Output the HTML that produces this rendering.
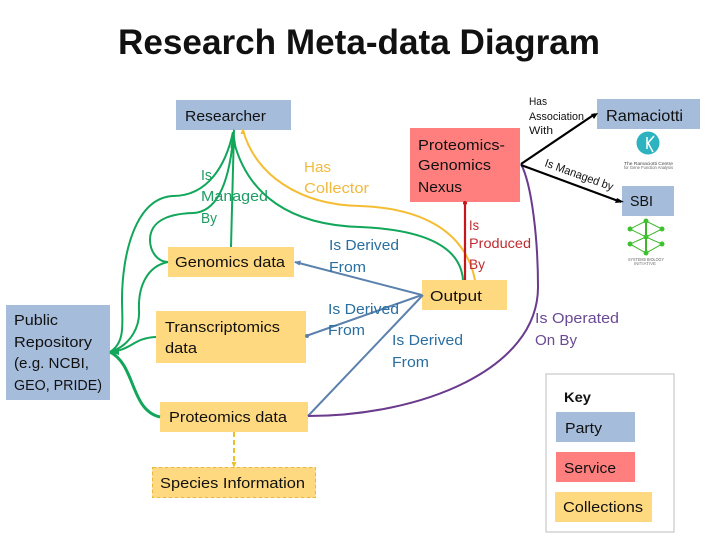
<!DOCTYPE html>
<html>
<head>
<meta charset="utf-8">
<style>
html,body{margin:0;padding:0;background:#fff;width:720px;height:540px;overflow:hidden}
svg{display:block}
text{font-family:"Liberation Sans",sans-serif;font-size:15px;fill:#111}
</style>
</head>
<body>
<svg width="720" height="540" viewBox="0 0 720 540" xmlns="http://www.w3.org/2000/svg">
<rect width="720" height="540" fill="#fff"/>
<text x="118" y="54" textLength="482" lengthAdjust="spacingAndGlyphs" style="font-size:35px;font-weight:bold" fill="#111">Research Meta-data Diagram</text>

<!-- key frame -->
<rect x="546" y="374" width="128" height="158" fill="#fff" stroke="#bcbcbc" stroke-width="1"/>

<!-- boxes -->
<g fill="#a5bcdb">
<rect x="176" y="100" width="115" height="30"/>
<rect x="6" y="305" width="104" height="95"/>
<rect x="597" y="99" width="103" height="30"/>
<rect x="622" y="186" width="52" height="30"/>
<rect x="556" y="412" width="79" height="30"/>
</g>
<g fill="#ffd97f">
<rect x="168" y="247" width="126" height="30"/>
<rect x="156" y="311" width="150" height="52"/>
<rect x="160" y="402" width="148" height="30"/>
<rect x="152.500" y="467.500" width="163" height="30" stroke="#e8b93e" stroke-dasharray="4 2"/>
<rect x="422" y="280" width="85" height="30"/>
<rect x="555" y="492" width="97" height="30"/>
</g>
<g fill="#ff7f7f">
<rect x="410" y="128" width="110" height="74"/>
<rect x="556" y="452" width="79" height="30"/>
</g>

<!-- green connectors -->
<g fill="none" stroke="#12a65a" stroke-width="2">
<path d="M233 132C226 165 208 196 173 196C135 198 122 255 122 300C122 322 126 342 110 352"/>
<path d="M233 140C230 170 222 212 193 213C160 214 150 226 150 240C150 252 158 262 168 262"/>
<path d="M234 130L231 247"/>
<path d="M234 142C248 195 290 225 360 227C410 229 460 240 463 280"/>
<path d="M168 262C148 266 138 285 139 310C140 325 132 345 110 352"/>
<path d="M156 337C133 338 132 350 110 352"/>
<path d="M160 417C130 410 136 365 110 352" stroke-width="3"/>
</g>
<path d="M233.500 128l-3 20h6z" fill="#12a65a"/>
<path d="M110 352l9-3v6z" fill="#12a65a"/>

<!-- yellow connector -->
<path d="M243 130C255 175 300 205 360 206C420 208 465 230 475 280" fill="none" stroke="#f4bd33" stroke-width="2"/>
<path d="M243 128l-2.500 6h5z" fill="#f4bd33"/>

<!-- red -->
<path d="M465 203V280" stroke="#c5161d" stroke-width="2.200"/>
<circle cx="465" cy="203" r="2" fill="#c5161d"/>

<!-- blue -->
<g stroke="#5b81ac" stroke-width="2" fill="none">
<path d="M422 295L295 262"/>
<path d="M306 336L422 295"/>
<path d="M308 416L423 295"/>
</g>
<path d="M294 262l7 -1.500l-1.500 5z" fill="#5b81ac"/>
<circle cx="307" cy="336" r="2" fill="#5b81ac"/>

<!-- purple -->
<path d="M521 164C532 185 538 240 538 287C538 370 420 416 308 416" fill="none" stroke="#6a3a8c" stroke-width="2"/>

<!-- black -->
<g stroke="#000" stroke-width="2.200" fill="none">
<path d="M521 164L595 114"/>
<path d="M521 165L621 202"/>
</g>
<path d="M598 113l-7 1l3 5z" fill="#000"/>
<path d="M624 202l-7-4l-2 5z" fill="#000"/>

<!-- yellow dashed -->
<path d="M234 432V464" stroke="#edbe2e" stroke-width="2" stroke-dasharray="5 3"/>
<path d="M234 468l-2.500-6h5z" fill="#edbe2e"/>

<!-- logos -->
<circle cx="648" cy="143" r="11.500" fill="#2db3bf"/>
<path d="M647 137v12M654 136l-6 7 5 9" fill="none" stroke="#fff" stroke-width="1.500"/>
<text x="624" y="165" textLength="49" lengthAdjust="spacingAndGlyphs" style="font-size:4.500px;fill:#444">The Ramaciotti Centre</text>
<text x="624" y="169" textLength="49" lengthAdjust="spacingAndGlyphs" style="font-size:4.500px;fill:#666">for Gene Function Analysis</text>
<g stroke="#3cb528" stroke-width="1" fill="none">
<path d="M646 221L630 229L646 237L662 229ZM646 237L630 244L646 253L662 244ZM646 221V253" />
</g>
<path d="M646 221V253" stroke="#3cb528" stroke-width="2"/>
<g fill="#3cc22e">
<circle cx="646" cy="221" r="2.500"/><circle cx="630" cy="229" r="2.500"/><circle cx="662" cy="229" r="2.500"/>
<circle cx="646" cy="237" r="2.500"/><circle cx="630" cy="244" r="2.500"/><circle cx="662" cy="244" r="2.500"/>
<circle cx="646" cy="253" r="2.500"/>
</g>
<text x="628" y="261" textLength="36" lengthAdjust="spacingAndGlyphs" style="font-size:4.500px;fill:#666">SYSTEMS BIOLOGY</text>
<text x="634" y="265" textLength="22" lengthAdjust="spacingAndGlyphs" style="font-size:4.500px;fill:#777">INITIATIVE</text>

<!-- node labels -->
<text x="185" y="121" textLength="81" lengthAdjust="spacingAndGlyphs">Researcher</text>
<text x="175" y="267" textLength="110" lengthAdjust="spacingAndGlyphs">Genomics data</text>
<text x="14" y="325" textLength="44" lengthAdjust="spacingAndGlyphs">Public</text>
<text x="14" y="347" textLength="78" lengthAdjust="spacingAndGlyphs">Repository</text>
<text x="14" y="368" textLength="75" lengthAdjust="spacingAndGlyphs">(e.g. NCBI,</text>
<text x="14" y="390" textLength="88" lengthAdjust="spacingAndGlyphs">GEO, PRIDE)</text>
<text x="165" y="332" textLength="115" lengthAdjust="spacingAndGlyphs">Transcriptomics</text>
<text x="165" y="353" textLength="32" lengthAdjust="spacingAndGlyphs">data</text>
<text x="169" y="422" textLength="118" lengthAdjust="spacingAndGlyphs">Proteomics data</text>
<text x="160" y="488" textLength="145" lengthAdjust="spacingAndGlyphs">Species Information</text>
<text x="418" y="150" textLength="87" lengthAdjust="spacingAndGlyphs">Proteomics-</text>
<text x="418" y="170" textLength="73" lengthAdjust="spacingAndGlyphs">Genomics</text>
<text x="418" y="192" textLength="44" lengthAdjust="spacingAndGlyphs">Nexus</text>
<text x="606" y="121" textLength="77" lengthAdjust="spacingAndGlyphs" style="font-size:16px">Ramaciotti</text>
<text x="630" y="206" textLength="23" lengthAdjust="spacingAndGlyphs">SBI</text>
<text x="430" y="301" textLength="52" lengthAdjust="spacingAndGlyphs">Output</text>
<text x="564" y="402" textLength="27" lengthAdjust="spacingAndGlyphs" style="font-weight:bold;font-size:14px">Key</text>
<text x="565" y="433" textLength="37" lengthAdjust="spacingAndGlyphs">Party</text>
<text x="564" y="473" textLength="52" lengthAdjust="spacingAndGlyphs">Service</text>
<text x="563" y="512" textLength="80" lengthAdjust="spacingAndGlyphs">Collections</text>

<!-- connector labels -->
<g style="font-size:11px">
<text x="529" y="105" textLength="18" lengthAdjust="spacingAndGlyphs" style="font-size:11px">Has</text>
<text x="529" y="120" textLength="55" lengthAdjust="spacingAndGlyphs" style="font-size:11px">Association</text>
<text x="529" y="134" textLength="24" lengthAdjust="spacingAndGlyphs" style="font-size:11px">With</text>
<text transform="translate(544 166) rotate(20)" textLength="72" lengthAdjust="spacingAndGlyphs" style="font-size:11.500px">Is Managed by</text>
</g>
<g>
<text x="201" y="180" textLength="11" lengthAdjust="spacingAndGlyphs" style="fill:#1f9c63">Is</text>
<text x="201" y="201" textLength="67" lengthAdjust="spacingAndGlyphs" style="fill:#1f9c63">Managed</text>
<text x="201" y="223" textLength="16" lengthAdjust="spacingAndGlyphs" style="fill:#1f9c63">By</text>
<text x="304" y="172" textLength="27" lengthAdjust="spacingAndGlyphs" style="fill:#f2b93b">Has</text>
<text x="304" y="193" textLength="65" lengthAdjust="spacingAndGlyphs" style="fill:#f2b93b">Collector</text>
<text x="329" y="250" textLength="70" lengthAdjust="spacingAndGlyphs" style="fill:#2a6f9f">Is Derived</text>
<text x="329" y="272" textLength="37" lengthAdjust="spacingAndGlyphs" style="fill:#2a6f9f">From</text>
<text x="328" y="314" textLength="71" lengthAdjust="spacingAndGlyphs" style="fill:#2a6f9f">Is Derived</text>
<text x="328" y="335" textLength="37" lengthAdjust="spacingAndGlyphs" style="fill:#2a6f9f">From</text>
<text x="392" y="345" textLength="71" lengthAdjust="spacingAndGlyphs" style="fill:#2a6f9f">Is Derived</text>
<text x="392" y="367" textLength="37" lengthAdjust="spacingAndGlyphs" style="fill:#2a6f9f">From</text>
<text x="469" y="230" textLength="10" lengthAdjust="spacingAndGlyphs" style="fill:#bf2b30;font-size:14px">Is</text>
<text x="469" y="248" textLength="62" lengthAdjust="spacingAndGlyphs" style="fill:#bf2b30;font-size:14px">Produced</text>
<text x="469" y="269" textLength="16" lengthAdjust="spacingAndGlyphs" style="fill:#bf2b30;font-size:14px">By</text>
<text x="535" y="323" textLength="84" lengthAdjust="spacingAndGlyphs" style="fill:#6a4a93">Is Operated</text>
<text x="535" y="345" textLength="42" lengthAdjust="spacingAndGlyphs" style="fill:#6a4a93">On By</text>
</g>
</svg>
</body>
</html>
